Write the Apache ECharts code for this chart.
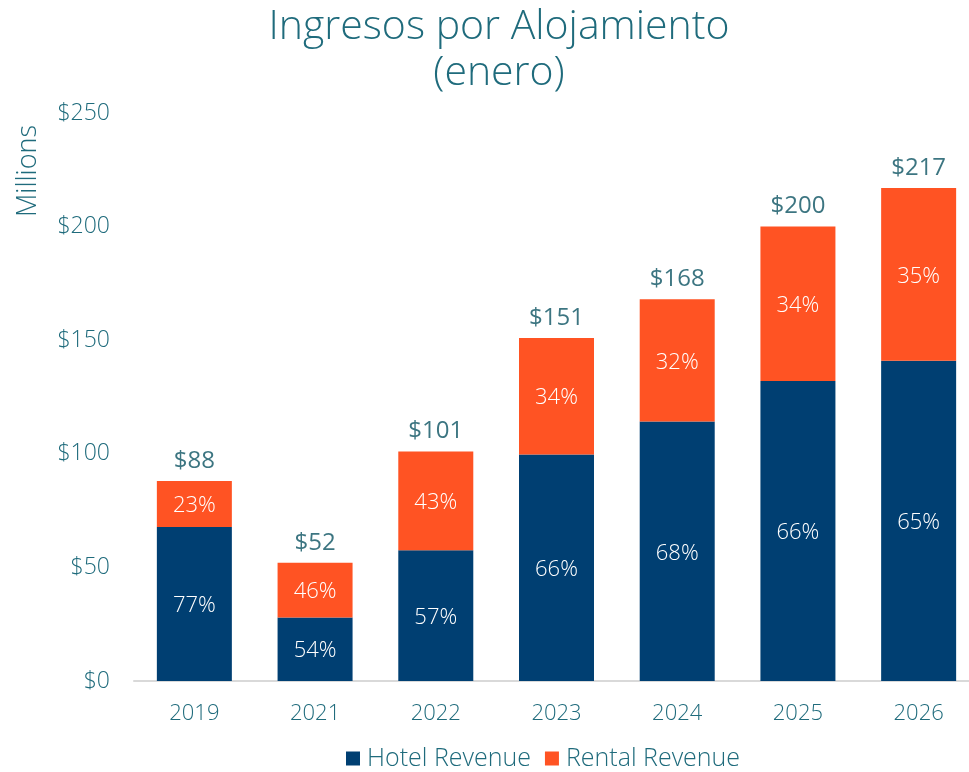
<!DOCTYPE html>
<html>
<head>
<meta charset="utf-8">
<script src="https://cdn.jsdelivr.net/npm/echarts@6/dist/echarts.min.js"></script>
<style>html,body{margin:0;padding:0;background:#fff;}#c{width:969px;height:772px;}</style>
</head>
<body>
<div id="c"></div>
<script>
var categories = ['2019','2021','2022','2023','2024','2025','2026'];
var hotelValues = [67.8, 28, 57.6, 99.7, 114.2, 132, 141];
var rentalValues = [20.2, 24, 43.4, 51.3, 53.8, 68, 76];
var totals = [88, 52, 101, 151, 168, 200, 217];
var hotelPct = ['77%','54%','57%','66%','68%','66%','65%'];
var rentalPct = ['23%','46%','43%','34%','32%','34%','35%'];
var yTicks = [0, 50, 100, 150, 200, 250];

var FONT = "'Open Sans', sans-serif";
var TEAL = '#1F6B7C';
var chart = echarts.init(document.getElementById('c'));
chart.setOption({
  animation: false,
  graphic: [{
    type: 'text', x: 499, y: 4,
    style: { text: 'Ingresos por Alojamiento\n(enero)', fontFamily: FONT, fontWeight: 300, fontSize: 41, lineHeight: 46, fill: TEAL, align: 'center', verticalAlign: 'top' }
  }, {
    type: 'text', x: 28, y: 171, rotation: Math.PI / 2,
    style: { text: 'Millions', fontFamily: FONT, fontWeight: 300, fontSize: 27, fill: TEAL, align: 'center', verticalAlign: 'middle' }
  }],
  legend: {
    top: 741, left: 341,
    itemWidth: 14, itemHeight: 14, itemGap: 14, icon: 'rect',
    textStyle: { fontFamily: FONT, fontWeight: 300, fontSize: 25, color: TEAL, padding: [0, 0, 0, 2] },
    data: ['Hotel Revenue', 'Rental Revenue']
  },
  grid: { left: 134, right: -10, top: 113, bottom: 91, containLabel: false, outerBoundsMode: 'none' },
  xAxis: {
    type: 'category', data: categories,
    axisLine: { lineStyle: { color: '#D9D9D9', width: 2 } },
    axisTick: { show: false },
    axisLabel: { fontFamily: FONT, fontWeight: 300, fontSize: 22, color: TEAL, margin: 22 }
  },
  yAxis: {
    type: 'value', min: yTicks[0], max: yTicks[yTicks.length - 1], interval: 50,
    splitLine: { show: false },
    axisLine: { show: false }, axisTick: { show: false },
    axisLabel: { fontFamily: FONT, fontWeight: 300, fontSize: 23, color: TEAL, margin: 24, formatter: function (v) { return '$' + v; } }
  },
  series: [
    {
      name: 'Hotel Revenue', type: 'bar', stack: 'a', barWidth: 75,
      itemStyle: { color: '#003F72' },
      data: hotelValues,
      label: { show: true, position: 'inside', offset: [0, 2], fontFamily: FONT, fontWeight: 300, fontSize: 22, color: '#fff',
        formatter: function (p) { return hotelPct[p.dataIndex]; } }
    },
    {
      name: 'Rental Revenue', type: 'bar', stack: 'a', barWidth: 75,
      itemStyle: { color: '#FF5323' },
      data: rentalValues,
      label: { show: true, position: 'inside', offset: [0, 2], fontFamily: FONT, fontWeight: 300, fontSize: 22, color: '#fff',
        formatter: function (p) { return rentalPct[p.dataIndex]; } }
    },
    {
      name: 'Total', type: 'scatter', data: totals, symbolSize: 0, silent: true,
      label: { show: true, position: 'top', distance: 8, fontFamily: FONT, fontWeight: 400, fontSize: 24, color: '#0B5262',
        formatter: function (p) { return '$' + p.value; } }
    }
  ]
});
</script>
</body>
</html>
